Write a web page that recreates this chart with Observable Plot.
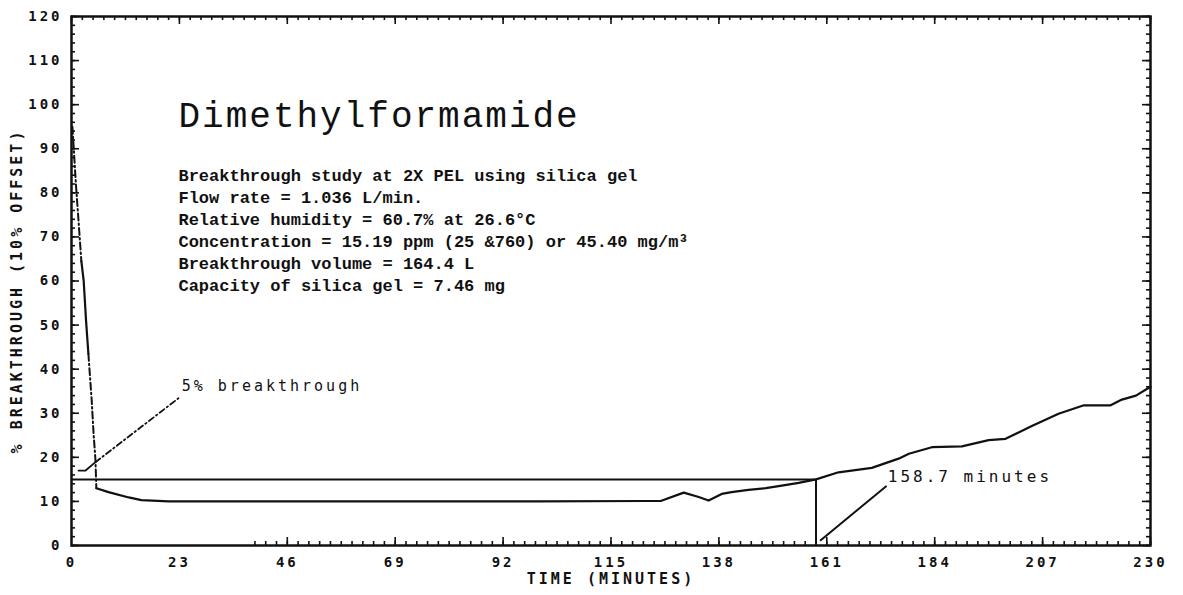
<!DOCTYPE html>
<html><head><meta charset="utf-8">
<script src="https://cdn.jsdelivr.net/npm/d3@7"></script>
<script src="https://cdn.jsdelivr.net/npm/@observablehq/plot@0.6"></script>
<style>
body{margin:0;background:#fff;}
#chart svg{display:block;}
g[font-family="DejaVu Sans Mono"] text{letter-spacing:3px;}
g[font-size="36"] text{letter-spacing:2px;}
</style></head><body><div id="chart"></div>
<script>
// ---- data ----
const xTickLabels = [0, 23, 46, 69, 92, 115, 138, 161, 184, 207, 230];
const yTickLabels = [0, 10, 20, 30, 40, 50, 60, 70, 80, 90, 100, 110, 120];

// steep initial drop (dash-dot / solid / dash-dot)
const dropTimeA = [0.2, 0.9, 1.5, 2.1];
const dropValueA = [95, 82.6, 73.6, 64.5];
const dropTimeB = [2.1, 2.6, 3.1, 3.6];
const dropValueB = [64.5, 60, 51, 43.5];
const dropTimeC = [3.6, 4.3, 4.7, 5.1, 5.3];
const dropValueC = [43.5, 33, 25.5, 19.5, 13];

// main breakthrough curve
const curveTime = [5.3, 7.9, 12.2, 14.9, 20.7, 32.8, 46.9, 65.5, 99.6, 122.4, 125.6, 130.5, 133.7, 135.8, 138.6, 140.7, 144.3, 148, 151.4, 155, 158.7, 163.5, 170.6, 176.3, 178.5, 183.4, 189.8, 195.5, 199.1, 204.7, 210.4, 215.8, 221.5, 223.9, 226.9, 230];
const curveValue = [13.0, 12.1, 10.9, 10.3, 10.0, 10.0, 10.0, 10.0, 10.0, 10.1, 10.1, 12.0, 11.0, 10.2, 11.7, 12.1, 12.6, 13.0, 13.6, 14.2, 15.0, 16.6, 17.6, 19.7, 20.8, 22.3, 22.5, 23.9, 24.2, 27.1, 29.9, 31.8, 31.8, 33.1, 34.0, 36.0];

// 5% breakthrough level (10% offset + 5%) and time reached
const breakthroughLevel = 15;
const breakthroughTime = 158.7;

// annotation leaders
const hookTime = [1.5, 3, 5.1];
const hookValue = [17, 17, 18.9];
const leader5Time = [5.1, 22.8];
const leader5Value = [18.9, 33.4];
const leaderMinTime = [159.7, 173.6];
const leaderMinValue = [1.2, 13.4];

// texts
const titleText = "Dimethylformamide";
const infoLines = [
  "Breakthrough study at 2X PEL using silica gel",
  "Flow rate = 1.036 L/min.",
  "Relative humidity = 60.7% at 26.6°C",
  "Concentration = 15.19 ppm (25 &760) or 45.40 mg/m³",
  "Breakthrough volume = 164.4 L",
  "Capacity of silica gel = 7.46 mg"
];
const label5 = "5% breakthrough";
const labelMinutes = "158.7 minutes";
const xTitle = "TIME (MINUTES)";
const yTitle = "% BREAKTHROUGH (10% OFFSET)";

// ---- layout ----
const W = 1183, H = 595;
const mL = 71, mR = 33, mT = 16, mB = 50;
const xPerPx = 230 / (W - mL - mR);
const yPerPx = 120 / (H - mT - mB);
const pts = (ts, vs) => ts.map((t, i) => ({t, v: vs[i]}));

const yMinor = d3.range(0, 120.01, 2);
const xMinor = d3.range(0, 230.01, 2.3);
const bottomStart = 39; // the bottom-edge ticks of the original are only printed from here on
const ink = "#111";
const axisFont = {fontFamily: "DejaVu Sans Mono", fontWeight: "bold", fontSize: 14, fill: ink};
const dashDot = "7,3,1.5,3";

const tickMarks = [];
for (const [vals, len] of [[yMinor, 4], [yTickLabels, 8]]) {
  tickMarks.push(Plot.ruleY(vals, {y: d => d, x1: 0, x2: len * xPerPx, stroke: ink, strokeWidth: 1.6}));
  tickMarks.push(Plot.ruleY(vals, {y: d => d, x1: 230 - len * xPerPx, x2: 230, stroke: ink, strokeWidth: 1.6}));
}
for (const [vals, len] of [[xMinor, 4], [xTickLabels, 8]]) {
  tickMarks.push(Plot.ruleX(vals.filter(d => d >= bottomStart), {x: d => d, y1: 0, y2: len * yPerPx, stroke: ink, strokeWidth: 1.6}));
  tickMarks.push(Plot.ruleX(vals, {x: d => d, y1: 120 - len * yPerPx, y2: 120, stroke: ink, strokeWidth: 1.6}));
}

const chart = Plot.plot({
  width: W, height: H,
  marginLeft: mL, marginRight: mR, marginTop: mT, marginBottom: mB,
  x: {domain: [0, 230]},
  y: {domain: [0, 120]},
  style: {background: "#fff", color: ink},
  marks: [
    ...tickMarks,
    Plot.frame({stroke: ink, strokeWidth: 2.5}),
    Plot.axisY({ticks: yTickLabels, tickSize: 0, tickPadding: 9, label: null, ...axisFont}),
    Plot.axisX({ticks: xTickLabels, tickSize: 0, tickPadding: 12, label: null, ...axisFont}),
    Plot.text([yTitle], {frameAnchor: "left", textAnchor: "middle", rotate: -90, dx: -54, dy: 10, fontFamily: "DejaVu Sans Mono", fontWeight: "bold", fontSize: 15, fill: ink}),
    Plot.text([xTitle], {frameAnchor: "bottom", textAnchor: "middle", dy: 38, fontFamily: "DejaVu Sans Mono", fontWeight: "bold", fontSize: 15, fill: ink}),
    // 5% breakthrough reference line and time marker
    Plot.ruleY([breakthroughLevel], {x1: 0, x2: breakthroughTime, stroke: ink, strokeWidth: 2}),
    Plot.ruleX([breakthroughTime], {y1: 0, y2: breakthroughLevel, stroke: ink, strokeWidth: 2}),
    // initial drop
    Plot.line(pts(dropTimeA, dropValueA), {x: "t", y: "v", stroke: ink, strokeWidth: 2, strokeDasharray: dashDot}),
    Plot.line(pts(dropTimeB, dropValueB), {x: "t", y: "v", stroke: ink, strokeWidth: 2.2}),
    Plot.line(pts(dropTimeC, dropValueC), {x: "t", y: "v", stroke: ink, strokeWidth: 2, strokeDasharray: dashDot}),
    // main curve
    Plot.line(pts(curveTime, curveValue), {x: "t", y: "v", stroke: ink, strokeWidth: 2.2}),
    // annotations
    Plot.line(pts(hookTime, hookValue), {x: "t", y: "v", stroke: ink, strokeWidth: 1.8}),
    Plot.line(pts(leader5Time, leader5Value), {x: "t", y: "v", stroke: ink, strokeWidth: 1.8, strokeDasharray: "6,3,1.5,3"}),
    Plot.line(pts(leaderMinTime, leaderMinValue), {x: "t", y: "v", stroke: ink, strokeWidth: 2}),
    Plot.text([label5], {x: 23.5, y: 35, textAnchor: "start", lineAnchor: "bottom", fontFamily: "DejaVu Sans Mono", fontSize: 15, fill: ink}),
    Plot.text([labelMinutes], {x: 174, y: 14.5, textAnchor: "start", lineAnchor: "bottom", fontFamily: "DejaVu Sans Mono", fontSize: 16, fill: ink}),
    // title and info block
    Plot.text([titleText], {x: 22.8, y: 94.9, textAnchor: "start", lineAnchor: "bottom", fontFamily: "Liberation Mono", fontSize: 36, fill: ink}),
    Plot.text(infoLines, {x: 22.8, y: (d, i) => 82.75 - 5 * i, textAnchor: "start", lineAnchor: "bottom", fontFamily: "Liberation Mono", fontWeight: "bold", fontSize: 17, fill: ink})
  ]
});
document.getElementById("chart").append(chart);
</script></body></html>
